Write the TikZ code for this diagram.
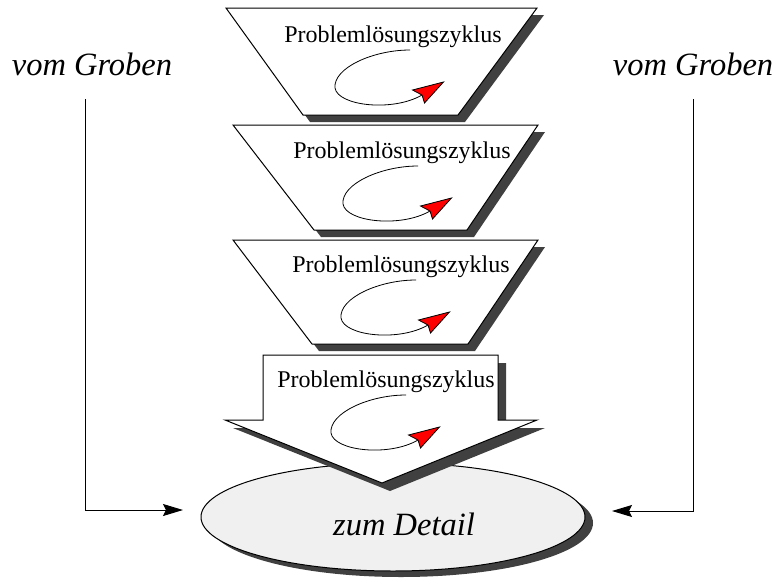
\documentclass[tikz,border=0pt]{standalone}
\usepackage{fontspec}
\setmainfont{Liberation Serif}[ItalicFont={Liberation Serif Italic}]
\newfontfamily\serifit{Liberation Serif Italic}
\usetikzlibrary{arrows.meta,shapes.geometric}
\definecolor{shadowgray}{RGB}{64,64,64}
\definecolor{ellfill}{RGB}{240,240,240}
\begin{document}
\begin{tikzpicture}[x=1pt,y=-1pt,
  shapebox/.style={draw=black, fill=white, line width=1pt, line join=miter},
  shade/.style={fill=shadowgray, draw=none},
  lbl/.style={font=\fontsize{24}{28}\selectfont, anchor=base, inner sep=0pt},
  side/.style={font=\serifit\fontsize{32.5}{38}\selectfont, anchor=base, inner sep=0pt},
  conn/.style={draw=black, line width=1pt, -{Stealth[length=20pt,width=12pt,inset=3pt]}},
  cyc/.pic={
    \draw[line width=0.8pt] (17,8) .. controls (-20,8) and (-60,26) .. (-58,46)
          .. controls (-55,64) and (0,70) .. (29,53);
    \filldraw[fill=red, draw=black, line width=0.8pt, line join=miter]
          (50.5,40) -- (19.5,48) -- (29,53) -- (31.5,61) -- cycle;
  }]
\useasboundingbox (0,0) rectangle (784,581);

% ellipse (bottom)
\fill[shadowgray] (401,523) ellipse [x radius=192, y radius=54];
\node[ellipse, draw=black, fill=ellfill, line width=1pt, minimum width=384pt, minimum height=108pt, inner sep=0pt] (det) at (393,517) {};
\node[side] (detail) at (404,535) {zum Detail};

% trapezoid 1
\path[shade, shift={(7,7)}] (226,8) -- (537,8) -- (458,115) -- (303,115) -- cycle;
\path[shapebox] (226,8) -- (537,8) -- (458,115) -- (303,115) -- cycle;
\node[lbl] (t1) at (393,42) {Problemlösungszyklus};
\pic at (393,42) {cyc};

% trapezoid 2
\path[shade, shift={(7,7)}] (233,125) -- (538,125) -- (467,230) -- (314,230) -- cycle;
\path[shapebox] (233,125) -- (538,125) -- (467,230) -- (314,230) -- cycle;
\node[lbl] (t2) at (402,158) {Problemlösungszyklus};
\pic at (401,158) {cyc};

% trapezoid 3
\path[shade, shift={(7,7)}] (233,240) -- (538,240) -- (468,344) -- (312,344) -- cycle;
\path[shapebox] (233,240) -- (538,240) -- (468,344) -- (312,344) -- cycle;
\node[lbl] (t3) at (401,272) {Problemlösungszyklus};
\pic at (399,272) {cyc};

% arrow shape
\path[shade, shift={(8,8)}] (263,355) -- (498,355) -- (498,420) -- (537,420) -- (382,483) -- (225,420) -- (263,420) -- cycle;
\path[shapebox] (263,355) -- (498,355) -- (498,420) -- (537,420) -- (382,483) -- (225,420) -- (263,420) -- cycle;
\node[lbl] (t4) at (386,387) {Problemlösungszyklus};
\pic at (389,387) {cyc};

% side labels and connectors
\node[side] (vgl) at (92,75) {vom Groben};
\node[side] (vgr) at (693,75) {vom Groben};
\coordinate (ls) at (85,99);
\coordinate (le) at (183,510);
\coordinate (rs) at (693,99);
\coordinate (re) at (612,511);
\draw[conn] (ls) |- (le);
\draw[conn] (rs) |- (re);
\end{tikzpicture}
\end{document}
